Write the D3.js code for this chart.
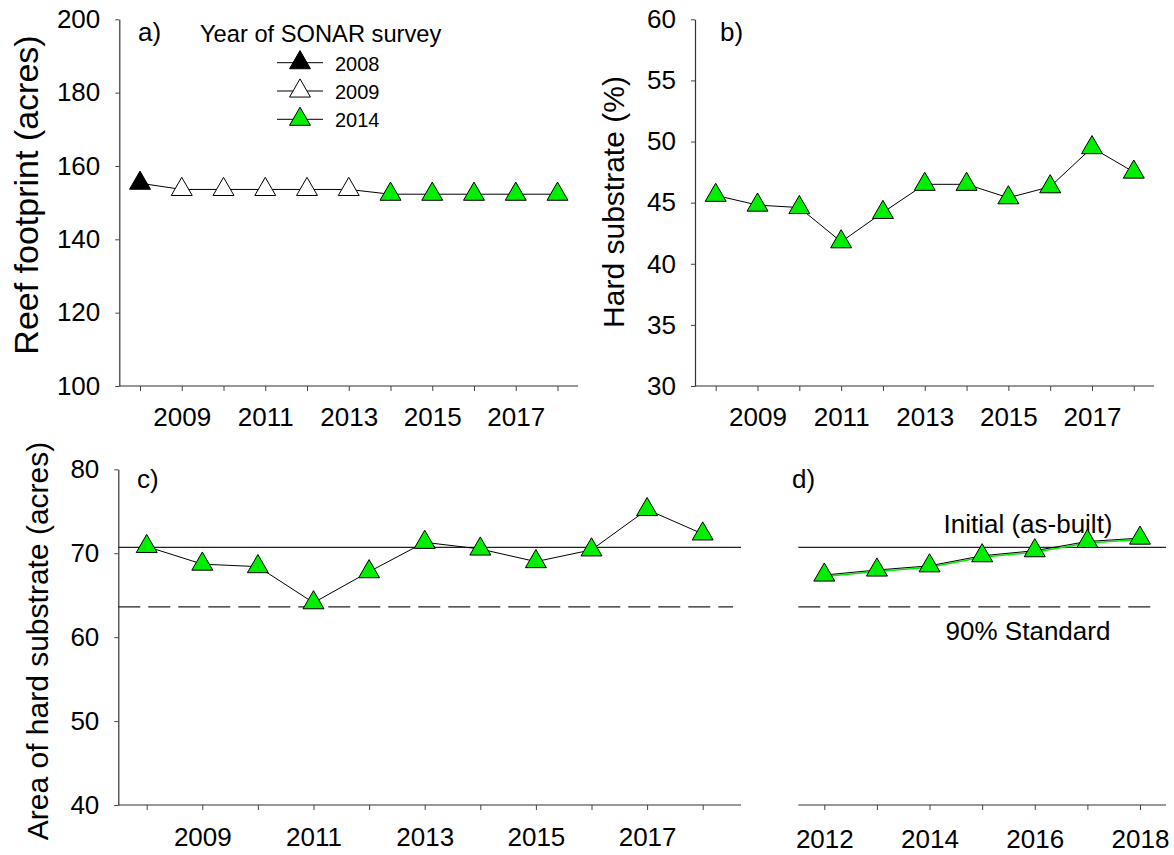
<!DOCTYPE html>
<html>
<head>
<meta charset="utf-8">
<script src="https://cdnjs.cloudflare.com/ajax/libs/d3/7.8.5/d3.min.js"></script>
<style>
  body { margin: 0; background: #fff; }
  svg text { font-family: "Liberation Sans", Arial, sans-serif; fill: #000; }
</style>
</head>
<body>
<svg id="chart" width="1174" height="855"></svg>
<script>
// data
var years = [2008, 2009, 2010, 2011, 2012, 2013, 2014, 2015, 2016, 2017, 2018];
var footprint = [155.3, 153.6, 153.6, 153.6, 153.6, 153.6, 152.3, 152.3, 152.3, 152.3, 152.3];
var surveyYear = [2008, 2009, 2009, 2009, 2009, 2009, 2014, 2014, 2014, 2014, 2014];
var hardPct = [45.6, 44.8, 44.6, 41.8, 44.2, 46.5, 46.5, 45.4, 46.3, 49.5, 47.5];
var hardArea = [70.8, 68.7, 68.4, 64.1, 67.8, 71.3, 70.5, 69.0, 70.4, 75.2, 72.3];
var recentYears = [2012, 2013, 2014, 2015, 2016, 2017, 2018];
var recentArea = [67.4, 68.0, 68.5, 69.7, 70.3, 71.4, 71.8];
var initialArea = 70.7;
var standardArea = 63.6;
var oddYears = [2009, 2011, 2013, 2015, 2017];
var evenYears = [2012, 2014, 2016, 2018];
var legendYears = [2008, 2009, 2014];

var green = "#00ee00";
var surveyColor = function(s) { return s == 2008 ? "#000" : (s == 2009 ? "#fff" : green); };
var tri = d3.symbol().type(d3.symbolTriangle).size(190);

var svg = d3.select("svg#chart");

//draws one panel frame: x axis (with its own line), optional y axis
function panel(p) {
  var g = svg.append("g");
  var x = d3.scaleLinear().domain(p.xDomain).range(p.xRange);
  var y = d3.scaleLinear().domain(p.yDomain).range(p.yRange);

  // x axis line runs past the data range
  g.append("line")
    .attr("x1", p.axisFrom).attr("x2", p.axisTo)
    .attr("y1", p.yRange[0]).attr("y2", p.yRange[0])
    .attr("stroke", "#333").attr("stroke-width", 1.2);

  var xAxis = g.append("g")
    .attr("transform", "translate(0," + p.yRange[0] + ")")
    .call(d3.axisBottom(x).tickValues(p.ticks).tickSize(5).tickPadding(p.labelPad)
      .tickFormat(function(d) { return p.labels.indexOf(d) >= 0 ? d : ""; }));
  xAxis.select(".domain").remove();
  xAxis.selectAll(".tick line").attr("stroke", "#444");
  xAxis.selectAll("text").attr("font-size", 26).attr("font-family", null);

  if (p.yTicks) {
    var yAxis = g.append("g")
      .attr("transform", "translate(" + p.axisFrom + ",0)")
      .call(d3.axisLeft(y).tickValues(p.yTicks).tickSize(4).tickSizeOuter(0).tickPadding(15));
    yAxis.select(".domain").attr("stroke", "#333").attr("stroke-width", 1.2);
    yAxis.selectAll(".tick line").attr("stroke", "#444");
    yAxis.selectAll("text").attr("font-size", 26).attr("font-family", null);
  }

  if (p.title) {
    g.append("text")
      .attr("transform", "translate(" + p.titleX + "," + p.titleY + ") rotate(-90)")
      .attr("text-anchor", "middle")
      .attr("font-size", p.titleSize)
      .text(p.title);
  }

  g.append("text")
    .attr("x", p.tagX).attr("y", p.tagY)
    .attr("font-size", 26)
    .text(p.tag);

  return { g: g, x: x, y: y };
}

function lineOf(x, y, xs, vs) {
  return d3.line()
    .x(function(d, i) { return x(xs[i]); })
    .y(function(d) { return y(d); })(vs);
}

function markers(g, x, y, xs, vs, fills) {
  g.append("g").selectAll("path")
    .data(vs)
    .enter().append("path")
    .attr("d", tri)
    .attr("transform", function(d, i) { return "translate(" + x(xs[i]) + "," + y(d) + ")"; })
    .attr("fill", function(d, i) { return fills(i); })
    .attr("stroke", "#000")
    .attr("stroke-width", 1);
}

/** panel a **/
var a = panel({
  xDomain: [2008, 2018], xRange: [140, 557.5], axisFrom: 119.3, axisTo: 578,
  yDomain: [100, 200], yRange: [386, 19.3], yTicks: [100, 120, 140, 160, 180, 200],
  ticks: years, labels: oddYears, labelPad: 17,
  title: "Reef footprint (acres)", titleX: 38, titleY: 195, titleSize: 34,
  tag: "a)", tagX: 138, tagY: 41
});
a.g.append("path")
  .attr("d", lineOf(a.x, a.y, years, footprint))
  .attr("fill", "none").attr("stroke", "#000").attr("stroke-width", 1);
markers(a.g, a.x, a.y, years, footprint, function(i) { return surveyColor(surveyYear[i]); });

// legend
var legend = a.g.append("g");
legend.append("text")
  .attr("x", 200).attr("y", 42)
  .attr("font-size", 23.7)
  .text("Year of SONAR survey");
var rows = legend.selectAll("g.row")
  .data(legendYears)
  .enter().append("g")
  .attr("class", "row")
  .attr("transform", function(d, i) { return "translate(0," + (62.7 + i * 28.3) + ")"; });
rows.append("line")
  .attr("x1", 277).attr("x2", 323)
  .attr("stroke", "#000").attr("stroke-width", 1);
rows.append("path")
  .attr("d", tri)
  .attr("transform", "translate(300,0)")
  .attr("fill", surveyColor)
  .attr("stroke", "#000");
rows.append("text")
  .attr("x", 335).attr("y", 8)
  .attr("font-size", 20)
  .text(function(d) { return d; });

/** panel b **/
var b = panel({
  xDomain: [2008, 2018], xRange: [715.7, 1133.8], axisFrom: 695, axisTo: 1154,
  yDomain: [30, 60], yRange: [386, 19.3], yTicks: [30, 35, 40, 45, 50, 55, 60],
  ticks: years, labels: oddYears, labelPad: 17,
  title: "Hard substrate (%)", titleX: 624, titleY: 202, titleSize: 30,
  tag: "b)", tagX: 720, tagY: 41
});
b.g.append("path")
  .attr("d", lineOf(b.x, b.y, years, hardPct))
  .attr("fill", "none").attr("stroke", "#000").attr("stroke-width", 1);
markers(b.g, b.x, b.y, years, hardPct, function() { return green; });

/** panel c **/
var c = panel({
  xDomain: [2008, 2018], xRange: [146.7, 702.7], axisFrom: 118.3, axisTo: 741,
  yDomain: [40, 80], yRange: [805, 469.3], yTicks: [40, 50, 60, 70, 80],
  ticks: years, labels: oddYears, labelPad: 18,
  title: "Area of hard substrate (acres)", titleX: 48, titleY: 641, titleSize: 30,
  tag: "c)", tagX: 137, tagY: 488
});

/** panel d **/
var d = panel({
  xDomain: [2012, 2018], xRange: [824.3, 1140], axisFrom: 798.3, axisTo: 1166,
  yDomain: [40, 80], yRange: [805, 469.3], yTicks: null,
  ticks: recentYears, labels: evenYears, labelPad: 20,
  title: null,
  tag: "d)", tagX: 792, tagY: 488
});

// reference lines, as-built area and 90% standard
[[c, 118.3, 741], [d, 798.3, 1166]].forEach(function(r) {
  r[0].g.append("line")
    .attr("x1", r[1]).attr("x2", r[2])
    .attr("y1", r[0].y(initialArea)).attr("y2", r[0].y(initialArea))
    .attr("stroke", "#222").attr("stroke-width", 1.2);
  r[0].g.append("line")
    .attr("x1", r[1]).attr("x2", r[2] - 8)
    .attr("y1", r[0].y(standardArea)).attr("y2", r[0].y(standardArea))
    .attr("stroke", "#222").attr("stroke-width", 1.2)
    .attr("stroke-dasharray", "22,8");
});

d.g.append("text")
  .attr("x", 1028).attr("y", 533)
  .attr("text-anchor", "middle").attr("font-size", 26)
  .text("Initial (as-built)");
d.g.append("text")
  .attr("x", 1028).attr("y", 640)
  .attr("text-anchor", "middle").attr("font-size", 26)
  .text("90% Standard");

c.g.append("path")
  .attr("d", lineOf(c.x, c.y, years, hardArea))
  .attr("fill", "none").attr("stroke", "#000").attr("stroke-width", 1);
markers(c.g, c.x, c.y, years, hardArea, function() { return green; });

// d has a green trace under the black one
d.g.append("path")
  .attr("d", lineOf(d.x, d.y, recentYears, recentArea))
  .attr("transform", "translate(0,1.5)")
  .attr("fill", "none").attr("stroke", green).attr("stroke-width", 1.5);
d.g.append("path")
  .attr("d", lineOf(d.x, d.y, recentYears, recentArea))
  .attr("fill", "none").attr("stroke", "#000").attr("stroke-width", 1);
markers(d.g, d.x, d.y, recentYears, recentArea, function() { return green; });
</script>
</body>
</html>
